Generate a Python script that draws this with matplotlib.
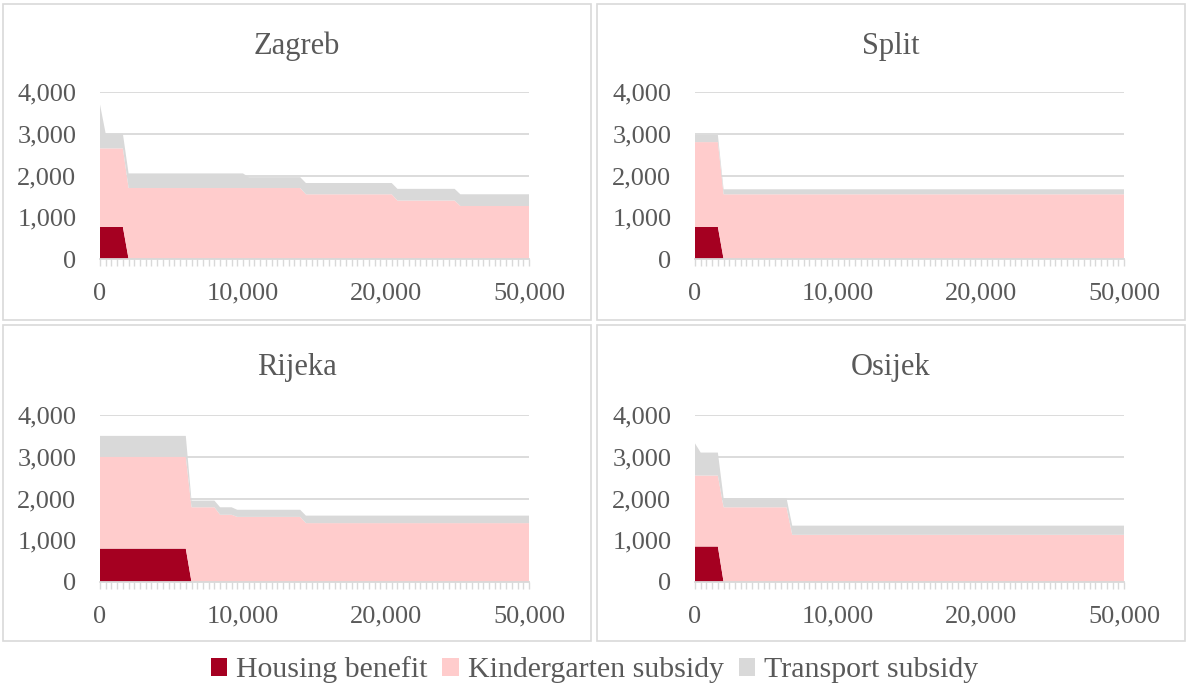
import matplotlib.pyplot as plt
from matplotlib.patches import Patch, Rectangle
from matplotlib.ticker import FuncFormatter

# Income categories (category axis, 76 points), labels shown every 25th
n_categories = 76
x_labels = ["0", "10,000", "20,000", "50,000"]

series_names = ["Housing benefit", "Kindergarten subsidy", "Transport subsidy"]
colors = ["#A50021", "#FFCCCC", "#D9D9D9"]

# breakpoints (category index) and values per city
zagreb_x = [0, 1, 4, 5, 25, 26, 35, 36, 51, 52, 62, 63, 75]
zagreb_housing = [770, 770, 770, 0, 0, 0, 0, 0, 0, 0, 0, 0, 0]
zagreb_kinder = [1880, 1880, 1880, 1700, 1700, 1700, 1700, 1550, 1550, 1400, 1400, 1270, 1270]
zagreb_transport = [1050, 350, 350, 350, 350, 260, 260, 270, 270, 280, 280, 280, 280]

split_x = [0, 4, 5, 75]
split_housing = [770, 770, 0, 0]
split_kinder = [2030, 2030, 1550, 1550]
split_transport = [170, 170, 120, 120]

rijeka_x = [0, 15, 16, 20, 21, 23, 24, 35, 36, 75]
rijeka_housing = [800, 800, 0, 0, 0, 0, 0, 0, 0, 0]
rijeka_kinder = [2200, 2200, 1790, 1790, 1610, 1610, 1560, 1560, 1410, 1410]
rijeka_transport = [500, 500, 160, 160, 180, 180, 170, 170, 180, 180]

osijek_x = [0, 1, 4, 5, 16, 17, 75]
osijek_housing = [850, 850, 850, 0, 0, 0, 0]
osijek_kinder = [1700, 1700, 1700, 1790, 1790, 1130, 1130]
osijek_transport = [770, 550, 550, 220, 220, 220, 220]

cities = [
    ("Zagreb", zagreb_x, zagreb_housing, zagreb_kinder, zagreb_transport),
    ("Split", split_x, split_housing, split_kinder, split_transport),
    ("Rijeka", rijeka_x, rijeka_housing, rijeka_kinder, rijeka_transport),
    ("Osijek", osijek_x, osijek_housing, osijek_kinder, osijek_transport),
]

plt.rcParams['font.family'] = ['Liberation Serif', 'DejaVu Serif']
text_color = "#595959"
grid_color = "#D9D9D9"

W, H = 1189, 693
fig = plt.figure(figsize=(W / 100, H / 100), dpi=100)

# pixel layout: (axes left, axes top, panel left, panel top)
layout = [
    (100, 92, 3, 4),
    (695, 92, 597, 4),
    (100, 415, 3, 325),
    (695, 415, 597, 325),
]
ax_w, ax_h = 429, 167
panel_w, panel_h = 588, 316

for (name, xs, hb, kg, tr), (al, at, pl, pt) in zip(cities, layout):
    # panel border
    fig.patches.append(Rectangle((pl / W, 1 - (pt + panel_h) / H), panel_w / W, panel_h / H,
                                 transform=fig.transFigure, fill=False,
                                 edgecolor=grid_color, linewidth=1.2))
    ax = fig.add_axes([al / W, 1 - (at + ax_h) / H, ax_w / W, ax_h / H])
    ax.stackplot(xs, hb, kg, tr, colors=colors, linewidth=0, zorder=2)
    ax.set_xlim(0, n_categories - 1)
    ax.set_ylim(0, 4000)
    ax.set_yticks([0, 1000, 2000, 3000, 4000])
    ax.yaxis.set_major_formatter(FuncFormatter(lambda v, p: f"{v:,.0f}"))
    ax.grid(axis='y', color=grid_color, linewidth=1.3, zorder=0)
    ax.set_axisbelow(True)
    for s in ['top', 'right', 'left']:
        ax.spines[s].set_visible(False)
    ax.spines['bottom'].set_color(grid_color)
    ax.spines['bottom'].set_linewidth(1.3)
    ax.spines['bottom'].set_zorder(3)
    ticks = list(range(n_categories))
    labels = [""] * n_categories
    for i, lab in enumerate(x_labels):
        labels[i * 25] = lab
    ax.set_xticks(ticks)
    ax.set_xticklabels(labels)
    ax.tick_params(axis='x', length=5, width=1, color=grid_color, pad=12,
                   labelsize=19, labelcolor=text_color)
    ax.tick_params(axis='y', length=0, pad=17, labelsize=19, labelcolor=text_color)
    fig.text((pl + panel_w / 2) / W, 1 - (pt + 50) / H, name, ha='center', va='baseline',
             fontsize=22, color=text_color)

handles = [Patch(facecolor=c, edgecolor='none') for c in colors]
fig.legend(handles, series_names, loc='center', bbox_to_anchor=(0.5, 1 - 670 / H),
           ncol=3, frameon=False, fontsize=21.5, labelcolor=text_color,
           handlelength=0.55, handleheight=0.55, handletextpad=0.3, columnspacing=0.5)

plt.savefig("out.png", dpi=100)
